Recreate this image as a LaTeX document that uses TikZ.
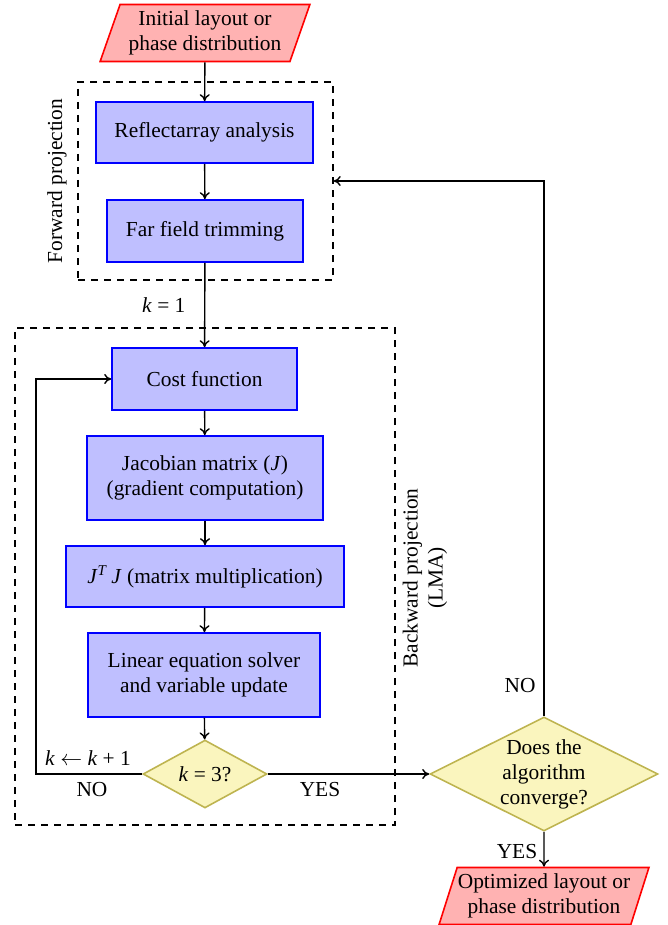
\documentclass[tikz,border=0pt]{standalone}
\usepackage{fontspec}
\setmainfont{Liberation Serif}
\usetikzlibrary{shapes.geometric,arrows.meta}
\definecolor{decfill}{RGB}{250,245,190}
\definecolor{decdraw}{RGB}{190,180,80}
\begin{document}
\begin{tikzpicture}[x=0.5pt,y=-0.5pt,
  font=\fontsize{10.7}{12.5}\selectfont,
  proc/.style={draw=blue,fill=blue!25,line width=0.8pt,align=center,inner sep=0pt},
  io/.style={trapezium,trapezium left angle=68,trapezium right angle=112,trapezium stretches=true,
    draw=red,fill=red!30,line width=0.8pt,align=center,minimum width=105pt,minimum height=28.5pt,inner sep=0pt},
  dec/.style={diamond,draw=decdraw,fill=decfill,line width=0.8pt,inner sep=0pt,align=center},
  arr/.style={-{To[length=3.5pt,width=5pt]},line width=0.7pt},
  grp/.style={draw,dashed,line width=0.7pt,dash pattern=on 3.5pt off 3pt,inner sep=0pt}]
\useasboundingbox (0,0) rectangle (668,925);

% groups
\node[grp,minimum width=127.5pt,minimum height=99pt] (fwd) at (205.5,181) {};
\node[grp,minimum width=190pt,minimum height=248.5pt] (bwd) at (205,576.5) {};
\node[rotate=90] (fwdlab) at (57,181) {Forward projection};
\node[rotate=90,align=center] (bwdlab) at (425,578) {Backward projection\\(LMA)};

% nodes
\node[io] (in) at (205,33) {Initial layout or\\phase distribution};
\node[proc,minimum width=108.5pt,minimum height=30.5pt] (ra) at (204.5,132.5) {Reflectarray analysis};
\node[proc,minimum width=98pt,minimum height=31pt] (ff) at (205,231) {Far field trimming};
\node[proc,minimum width=92.5pt,minimum height=31pt] (cost) at (204.5,379) {Cost function};
\node[proc,minimum width=118pt,minimum height=42pt] (jac) at (205,478) {Jacobian matrix (\textit{J})\\(gradient computation)};
\node[proc,minimum width=139pt,minimum height=30.5pt] (jtj) at (205,576.5) {\textit{J}\textsuperscript{\textit{T}}\,\textit{J} (matrix multiplication)};
\node[proc,minimum width=116pt,minimum height=42pt] (lin) at (204,675) {Linear equation solver\\and variable update};
\node[dec,minimum width=62pt,minimum height=31pt] (d1) at (205,774) {\textit{k} = 3?};
\node[dec,minimum width=114pt,minimum height=57pt,label=center:{\begin{tabular}{@{}c@{}}Does the\\algorithm\\converge?\end{tabular}}] (d2) at (544,774) {};
\node[io] (out) at (544,896) {Optimized layout or\\phase distribution};

% connectors
\draw[arr] (in) -- (ra);
\draw[arr] (ra) -- (ff);
\draw[arr] (ff) -- node[pos=0.5,left=6pt] {\textit{k} = 1} (cost);
\draw[arr] (cost) -- (jac);
\draw[arr] (jac) -- (jtj);
\draw[arr] (jtj) -- (lin);
\draw[arr] (lin) -- (d1);
\coordinate (lp) at (36,774);
\draw[arr] (d1.west) -- (lp) |- (cost.west);
\node (inc) at (88,758) {\textit{k} $\leftarrow$ \textit{k} + 1};
\node (no1) at (92,790) {NO};
\draw[arr] (d1.east) -- (d2.west);
\node (yes1) at (320,790) {YES};
\draw[arr] (d2.north) |- (fwd.east);
\node (no2) at (520,686) {NO};
\draw[arr] (d2.south) -- (out);
\node (yes2) at (517,852) {YES};
\end{tikzpicture}
\end{document}
